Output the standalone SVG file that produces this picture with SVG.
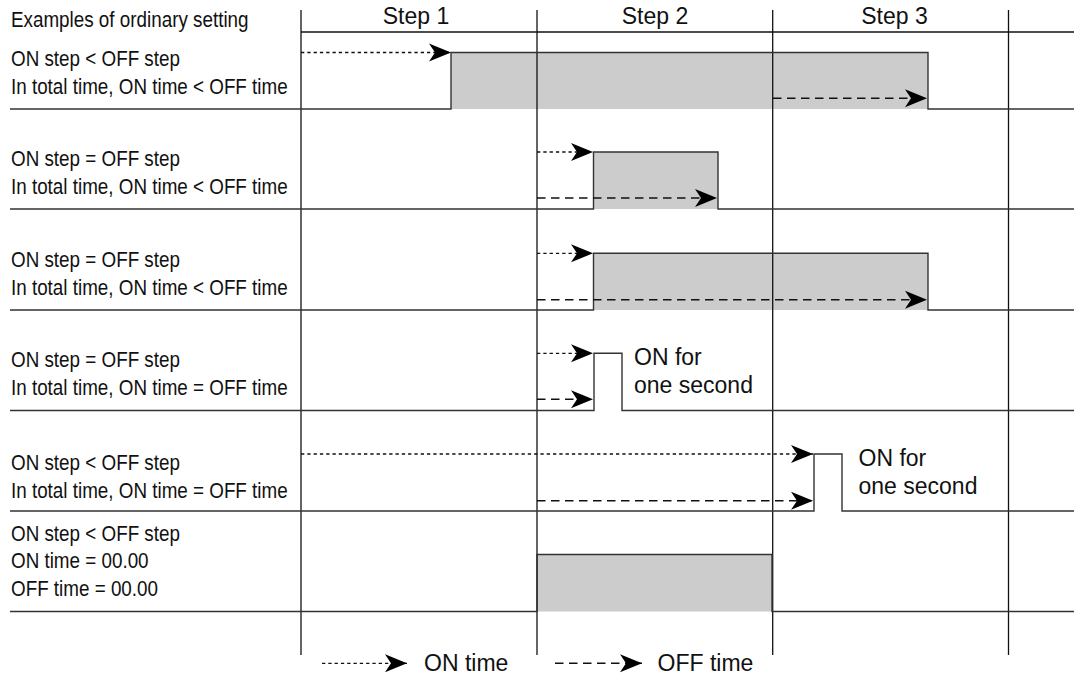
<svg xmlns="http://www.w3.org/2000/svg" width="1074" height="676" viewBox="0 0 1074 676">
  <defs>
    <style>
      .grid { stroke: #111; stroke-width: 1.3; fill: none; }
      .wave { stroke: #333; stroke-width: 1.4; fill: none; }
      .fill { fill: #cccccc; stroke: none; }
      .on { stroke: #111; stroke-width: 1.3; stroke-dasharray: 3.3 3; fill: none; marker-end: url(#head); }
      .off { stroke: #111; stroke-width: 1.4; stroke-dasharray: 8.5 5.5; fill: none; marker-end: url(#head); }
      .lbl { font-family: "Liberation Sans", Arial, sans-serif; font-size: 22px; fill: #111; }
      .txt { font-family: "Liberation Sans", Arial, sans-serif; font-size: 23px; fill: #111; }
    </style>
    <marker id="head" markerUnits="userSpaceOnUse" markerWidth="23" markerHeight="19" refX="22" refY="9" orient="auto" overflow="visible">
      <path d="M0,0 L22,9 L0,18 L6,9 Z" fill="#000"/>
    </marker>
  </defs>
  <rect width="1074" height="676" fill="#fff"/>

  <!-- gray ON regions -->
  <g id="fills">
    <rect class="fill" x="451" y="52.5" width="477" height="56.5"/>
    <rect class="fill" x="593.5" y="152" width="124.5" height="57"/>
    <rect class="fill" x="593.5" y="253.3" width="334.5" height="56.7"/>
    <rect class="fill" x="537" y="554.5" width="235" height="57"/>
  </g>

  <!-- grid -->
  <g id="grid">
    <line class="grid" x1="301" y1="10" x2="301" y2="655"/>
    <line class="grid" x1="537" y1="10" x2="537" y2="655"/>
    <line class="grid" x1="772.7" y1="10" x2="772.7" y2="655"/>
    <line class="grid" x1="1008.5" y1="10" x2="1008.5" y2="655"/>
    <line class="grid" x1="301" y1="32" x2="1074" y2="32"/>
  </g>

  <!-- waveforms (row separators) -->
  <g id="row1"><path class="wave" d="M10,109 H451 V52.5 H928 V109 H1074"/></g>
  <g id="row2"><path class="wave" d="M10,209 H593.5 V152 H718 V209 H1074"/></g>
  <g id="row3"><path class="wave" d="M10,310 H593.5 V253.3 H928 V310 H1074"/></g>
  <g id="row4"><path class="wave" d="M10,410.5 H594 V353.3 H622 V410.5 H1074"/></g>
  <g id="row5"><path class="wave" d="M10,511 H814 V454 H842 V511 H1074"/></g>
  <g id="row6"><path class="wave" d="M10,611.5 H537 V554.5 H772 V611.5 H1074"/></g>

  <!-- connectors: ON / OFF time arrows -->
  <g id="connectors">
    <line class="on" x1="301" y1="52.5" x2="451" y2="52.5"/>
    <line class="off" x1="773" y1="98.3" x2="927" y2="98.3"/>
    <line class="on" x1="537" y1="152" x2="593" y2="152"/>
    <line class="off" x1="537" y1="198" x2="717" y2="198"/>
    <line class="on" x1="537" y1="253.3" x2="593" y2="253.3"/>
    <line class="off" x1="537" y1="299.7" x2="927" y2="299.7"/>
    <line class="on" x1="537" y1="353.3" x2="593" y2="353.3"/>
    <line class="off" x1="537" y1="399.3" x2="593" y2="399.3"/>
    <line class="on" x1="301" y1="454" x2="813" y2="454"/>
    <line class="off" x1="537" y1="500.7" x2="813" y2="500.7"/>
    <line class="on" x1="322" y1="663.3" x2="407" y2="663.3"/>
    <line class="off" x1="555" y1="663.3" x2="642" y2="663.3"/>
  </g>

  <!-- left labels (narrow face) -->
  <g id="labels" transform="scale(0.856,1)">
    <text class="lbl" x="12.85" y="27">Examples of ordinary setting</text>
    <text class="lbl" x="12.85" y="65.7">ON step &lt; OFF step</text>
    <text class="lbl" x="12.85" y="94">In total time, ON time &lt; OFF time</text>
    <text class="lbl" x="12.85" y="166">ON step = OFF step</text>
    <text class="lbl" x="12.85" y="194.5">In total time, ON time &lt; OFF time</text>
    <text class="lbl" x="12.85" y="267">ON step = OFF step</text>
    <text class="lbl" x="12.85" y="295.5">In total time, ON time &lt; OFF time</text>
    <text class="lbl" x="12.85" y="367">ON step = OFF step</text>
    <text class="lbl" x="12.85" y="395.5">In total time, ON time = OFF time</text>
    <text class="lbl" x="12.85" y="470">ON step &lt; OFF step</text>
    <text class="lbl" x="12.85" y="497.7">In total time, ON time = OFF time</text>
    <text class="lbl" x="12.85" y="540.7">ON step &lt; OFF step</text>
    <text class="lbl" x="12.85" y="568.3">ON time = 00.00</text>
    <text class="lbl" x="12.85" y="596">OFF time = 00.00</text>
  </g>

  <!-- step headers -->
  <g id="steps">
    <text class="txt" x="416" y="24" text-anchor="middle">Step 1</text>
    <text class="txt" x="655" y="24" text-anchor="middle">Step 2</text>
    <text class="txt" x="894.5" y="24" text-anchor="middle">Step 3</text>
  </g>

  <!-- annotations -->
  <g id="note4">
    <text class="txt" x="634" y="365">ON for</text>
    <text class="txt" x="634" y="393">one second</text>
  </g>
  <g id="note5">
    <text class="txt" x="858.5" y="465.7">ON for</text>
    <text class="txt" x="858.5" y="494">one second</text>
  </g>

  <!-- legend -->
  <g id="legend">
    <text class="txt" x="424" y="671">ON time</text>
    <text class="txt" x="657.5" y="671">OFF time</text>
  </g>
</svg>
